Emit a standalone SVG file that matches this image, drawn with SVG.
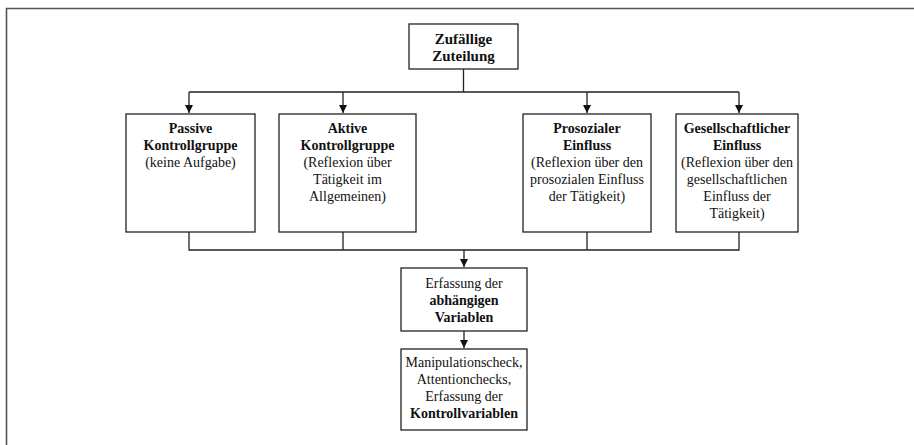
<svg xmlns="http://www.w3.org/2000/svg" width="914" height="445" viewBox="0 0 914 445">
<defs>
<marker id="ah" viewBox="0 0 8 10" refX="8" refY="5" markerWidth="8" markerHeight="10" markerUnits="userSpaceOnUse" orient="auto">
<path d="M0,1 L8,5 L0,9 Z" fill="#111"/>
</marker>
<style>
.box{fill:#fff;stroke:#222;stroke-width:1.3}
.ln{fill:none;stroke:#222;stroke-width:1.3}
.t{font-family:'Liberation Serif','Times New Roman',Times,serif;font-size:14px;fill:#111;text-anchor:middle}
.b{font-weight:bold}
</style>
</defs>
<rect width="914" height="445" fill="#fff"/>
<path d="M6.5,445 V8.5 H914" fill="none" stroke="#555" stroke-width="1.6"/>
<g id="connectors">
<path class="ln" d="M463.5,69 V92 M189,92 H739"/>
<path class="ln" d="M189,92 V113" marker-end="url(#ah)"/>
<path class="ln" d="M343,92 V113" marker-end="url(#ah)"/>
<path class="ln" d="M587,92 V113" marker-end="url(#ah)"/>
<path class="ln" d="M739,92 V113" marker-end="url(#ah)"/>
<path class="ln" d="M189,232 V250 H739 V232 M343,232 V250 M587,232 V250"/>
<path class="ln" d="M464,250 V267" marker-end="url(#ah)"/>
<path class="ln" d="M464,331 V348" marker-end="url(#ah)"/>
</g>
<g class="t" font-family="Liberation Serif, Times New Roman, serif">
<g id="zuteilung">
<rect class="box" x="409" y="24" width="109" height="45"/>
<text class="b" x="463.5" y="44" font-size="15">Zufällige</text>
<text class="b" x="463.5" y="61" font-size="15">Zuteilung</text>
</g>
<g id="passive">
<rect class="box" x="126" y="114" width="129" height="118"/>
<text x="190.5" y="133"><tspan class="b">Passive</tspan><tspan class="b" x="190.5" dy="17">Kontrollgruppe</tspan><tspan x="190.5" dy="17">(keine Aufgabe)</tspan></text>
</g>
<g id="aktive">
<rect class="box" x="279" y="114" width="137" height="118"/>
<text x="347.5" y="133"><tspan class="b">Aktive</tspan><tspan class="b" x="347.5" dy="17">Kontrollgruppe</tspan><tspan x="347.5" dy="17">(Reflexion über</tspan><tspan x="347.5" dy="17">Tätigkeit im</tspan><tspan x="347.5" dy="17">Allgemeinen)</tspan></text>
</g>
<g id="prosozial">
<rect class="box" x="523" y="114" width="128" height="118"/>
<text x="587" y="133"><tspan class="b">Prosozialer</tspan><tspan class="b" x="587" dy="17">Einfluss</tspan><tspan x="587" dy="17">(Reflexion über den</tspan><tspan x="587" dy="17">prosozialen Einfluss</tspan><tspan x="587" dy="17">der Tätigkeit)</tspan></text>
</g>
<g id="gesellschaftlich">
<rect class="box" x="676" y="114" width="122" height="118"/>
<text x="737" y="133"><tspan class="b">Gesellschaftlicher</tspan><tspan class="b" x="737" dy="17">Einfluss</tspan><tspan x="737" dy="17">(Reflexion über den</tspan><tspan x="737" dy="17">gesellschaftlichen</tspan><tspan x="737" dy="17">Einfluss der</tspan><tspan x="737" dy="17">Tätigkeit)</tspan></text>
</g>
<g id="abhaengige">
<rect class="box" x="401" y="268" width="126" height="63"/>
<text x="464" y="288"><tspan>Erfassung der</tspan><tspan class="b" x="464" dy="17">abhängigen</tspan><tspan class="b" x="464" dy="17">Variablen</tspan></text>
</g>
<g id="kontrolle">
<rect class="box" x="401" y="349" width="126" height="81"/>
<text x="464" y="367"><tspan>Manipulationscheck,</tspan><tspan x="464" dy="17">Attentionchecks,</tspan><tspan x="464" dy="17">Erfassung der</tspan><tspan class="b" x="464" dy="17">Kontrollvariablen</tspan></text>
</g>
</g>
</svg>
